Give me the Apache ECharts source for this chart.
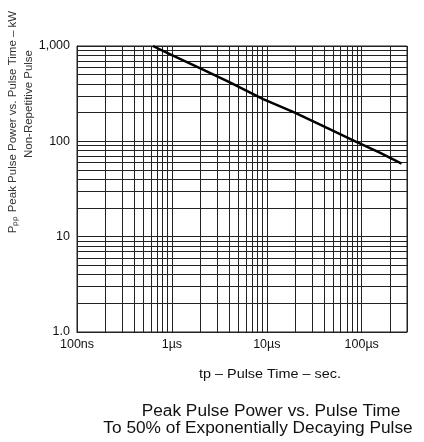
<!DOCTYPE html>
<html>
<head>
<meta charset="utf-8">
<script src="https://cdn.jsdelivr.net/npm/echarts@6/dist/echarts.min.js"></script>
<style>
html, body { margin: 0; padding: 0; background: #fff; }
#chart { width: 424px; height: 442px; }
</style>
</head>
<body>
<div id="chart"></div>
<script>
// pulse time (µs) vs peak pulse power (kW)
const pulseTime = [0.63, 1, 1.97, 4.08, 9.15, 19.7, 42.5, 84.4, 155, 263];
const peakPower = [1000, 800, 587, 415, 277, 200, 139, 100.7, 76, 58.5];

// tick labels at the decades
const xTickValues = [0.1, 1, 10, 100];
const xTickLabels = ['100ns', '1µs', '10µs', '100µs'];
const yTickValues = [1, 10, 100, 1000];
const yTickLabels = ['1.0', '10', '100', '1,000'];

// 2..9 lines inside each decade
const xMinor = [0.2, 0.3, 0.4, 0.5, 0.6, 0.7, 0.8, 0.9, 2, 3, 4, 5, 6, 7, 8, 9,
  20, 30, 40, 50, 60, 70, 80, 90, 200];
const yMinor = [2, 3, 4, 5, 6, 7, 8, 9, 20, 30, 40, 50, 60, 70, 80, 90,
  200, 300, 400, 500, 600, 700, 800, 900];

const font = "'Liberation Sans', Arial, sans-serif";
const gridColor = '#222';

function pickLabel(v, values, labels) {
  for (let i = 0; i < values.length; i++) {
    if (Math.abs(Math.log10(v) - Math.log10(values[i])) < 1e-6) return labels[i];
  }
  return '';
}

const chart = echarts.init(document.getElementById('chart'));

const minorLines = xMinor.map(v => ({ xAxis: v })).concat(yMinor.map(v => ({ yAxis: v })));

chart.setOption({
  animation: false,
  backgroundColor: '#fff',
  grid: {
    left: 77, right: 17, top: 46, bottom: 110,
    containLabel: false,
    outerBoundsMode: 'none',
    show: true,
    borderColor: gridColor,
    borderWidth: 1
  },
  xAxis: {
    type: 'log',
    logBase: 10,
    min: 0.1,
    max: 300,
    axisLine: { show: true, lineStyle: { color: gridColor, width: 1 } },
    axisTick: { show: false },
    splitLine: { show: true, lineStyle: { color: gridColor, width: 1 } },
    axisLabel: {
      margin: 6,
      fontSize: 12.5,
      fontFamily: font,
      color: '#111',
      formatter: v => pickLabel(v, xTickValues, xTickLabels)
    }
  },
  yAxis: {
    type: 'log',
    logBase: 10,
    min: 1,
    max: 1000,
    axisLine: { show: true, lineStyle: { color: gridColor, width: 1 } },
    axisTick: { show: false },
    splitLine: { show: true, lineStyle: { color: gridColor, width: 1 } },
    axisLabel: {
      margin: 7,
      fontSize: 12.5,
      fontFamily: font,
      color: '#111',
      formatter: v => pickLabel(v, yTickValues, yTickLabels)
    }
  },
  series: [
    {
      // holds the minor grid lines only
      type: 'line',
      data: [],
      z: 1,
      silent: true,
      markLine: {
        silent: true,
        symbol: 'none',
        label: { show: false },
        lineStyle: { color: gridColor, width: 1, type: 'solid' },
        data: minorLines
      }
    },
    {
      type: 'line',
      z: 5,
      data: pulseTime.map((t, i) => [t, peakPower[i]]),
      showSymbol: false,
      symbol: 'none',
      lineStyle: { color: '#000', width: 2.5 }
    }
  ],
  graphic: [
    {
      type: 'text', x: 13, y: 122, rotation: Math.PI / 2,
      style: {
        text: 'Pₚₚ Peak Pulse Power vs. Pulse Time – kW',
        font: '11.5px ' + font, fill: '#333', align: 'center', verticalAlign: 'middle'
      }
    },
    {
      type: 'text', x: 29, y: 104, rotation: Math.PI / 2,
      style: {
        text: 'Non-Repetitive Pulse',
        font: '11.5px ' + font, fill: '#333', align: 'center', verticalAlign: 'middle'
      }
    },
    {
      type: 'text', x: 270, y: 375, scaleX: 1.2,
      style: {
        text: 'tp – Pulse Time – sec.',
        font: '12px ' + font, fill: '#111', align: 'center', verticalAlign: 'middle'
      }
    },
    {
      type: 'text', x: 271, y: 412, scaleX: 1.08,
      style: {
        text: 'Peak Pulse Power vs. Pulse Time',
        font: '16px ' + font, fill: '#111', align: 'center', verticalAlign: 'middle'
      }
    },
    {
      type: 'text', x: 258, y: 429, scaleX: 1.08,
      style: {
        text: 'To 50% of Exponentially Decaying Pulse',
        font: '16px ' + font, fill: '#111', align: 'center', verticalAlign: 'middle'
      }
    }
  ]
});
</script>
</body>
</html>
